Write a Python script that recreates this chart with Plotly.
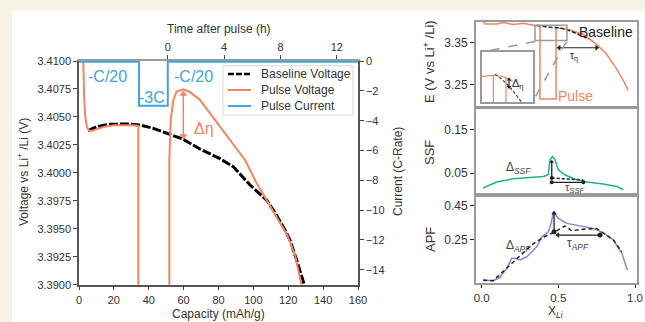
import plotly.graph_objects as go

# ---------------- main chart data ----------------
cap_base = [5.2, 10.1, 17.8, 27.3, 35.0, 42.6, 50.3, 59.8, 69.4, 80.5, 88.5, 98.1, 107.6, 111.4, 117.1, 121.0, 124.8, 129.2]
v_base = [3.40377, 3.40413, 3.40434, 3.40437, 3.40428, 3.40398, 3.40354, 3.40300, 3.40213, 3.40130,
          3.40055, 3.39891, 3.39757, 3.39668, 3.39519, 3.39400, 3.39221, 3.39000]

cap_pulse = [2.3, 2.6, 3.0, 3.6, 4.5, 6.0, 8.0, 11.0, 15.0, 20.0, 26.0, 31.0, 34.0, 34.0, 51.8, 51.8,
             52.6, 54.1, 56.0, 59.8, 63.6, 69.4, 76.0, 82.3, 88.5, 95.2, 101.9, 107.5, 113.4, 119.4, 123.9, 127.7, 128.3]
v_pulse = [3.4110, 3.4085, 3.4065, 3.4050, 3.4041, 3.40375, 3.40378, 3.40395, 3.40415, 3.40425, 3.40428, 3.40425, 3.40420,
           3.3850, 3.3850, 3.4012, 3.40473, 3.40651, 3.40726, 3.40747, 3.40723, 3.40651, 3.40514, 3.40383, 3.40250,
           3.40115, 3.39907, 3.39760, 3.39608, 3.39444, 3.39266, 3.39000, 3.38950]

cap_current = [0.0, 34.4, 34.4, 50.9, 50.9, 160.0]
current = [-0.05, -0.05, -3.0, -3.0, -0.05, -0.05]

volt_ticks = [3.3900, 3.3925, 3.3950, 3.3975, 3.4000, 3.4025, 3.4050, 3.4075, 3.4100]
cap_ticks = [0, 20, 40, 60, 80, 100, 120, 140, 160]
cur_ticks = [0, -2, -4, -6, -8, -10, -12, -14]
time_ticks = [0, 4, 8, 12]
legend_labels = ['Baseline Voltage', 'Pulse Voltage', 'Pulse Current']

# ---------------- right panels data ----------------
x_e_pulse = [0.010, 0.022, 0.098, 0.141, 0.206, 0.271, 0.348, 0.380, 0.380, 0.485, 0.485, 0.565, 0.663, 0.750, 0.815, 0.881, 0.924, 0.956]
e_pulse = [3.401, 3.3948, 3.3948, 3.3979, 3.3932, 3.3962, 3.3908, 3.389, 3.216, 3.216, 3.386, 3.3814, 3.3696, 3.346, 3.3224, 3.287, 3.2594, 3.2358]
x_e_base = [0.359, 0.446, 0.511, 0.580, 0.641, 0.700]
e_base = [3.3915, 3.3868, 3.3854, 3.3780, 3.3680, 3.3590]

x_ssf = [0.010, 0.098, 0.206, 0.315, 0.402, 0.434, 0.446, 0.461, 0.478, 0.500, 0.543, 0.598, 0.685, 0.793, 0.881, 0.924]
ssf = [0.0154, 0.0292, 0.0368, 0.0398, 0.0421, 0.0461, 0.0807, 0.0883, 0.0807, 0.0576, 0.0461, 0.0368, 0.0292, 0.0246, 0.0191, 0.0114]

x_apf = [0.010, 0.075, 0.119, 0.163, 0.196, 0.217, 0.250, 0.294, 0.359, 0.392, 0.435, 0.453, 0.468, 0.500, 0.555, 0.642, 0.729, 0.794, 0.859, 0.914, 0.950]
apf = [0.008, 0.004, 0.024, 0.077, 0.137, 0.137, 0.127, 0.146, 0.206, 0.265, 0.295, 0.345, 0.414, 0.375, 0.345, 0.329, 0.315, 0.289, 0.246, 0.167, 0.067]
x_apf_base = [0.010, 0.075, 0.326, 0.400, 0.478, 0.543, 0.587, 0.663, 0.750, 0.793, 0.859, 0.913]
apf_base = [0.006, 0.004, 0.216, 0.262, 0.295, 0.329, 0.301, 0.310, 0.315, 0.289, 0.246, 0.176]

# inset (magnified) data, local units
u_in_pulse = [0.0, 0.16, 0.30, 0.43, 0.53, 0.60]
v_in_pulse = [0.506, 0.53, 0.53, 0.50, 0.46, 0.41]
u_in_base = [0.258, 0.388, 0.535, 0.645, 0.775]
v_in_base = [0.553, 0.46, 0.308, 0.178, 0.0]
u_in_drops = [0.225, 0.47]
v_in_drops = [0.52, 0.50]

W, H = 645, 322
def px(x): return x / W
def py(y): return 1 - y / H

ORANGE = '#f5845f'
BLUE = '#3ba7dc'
GREEN = '#1db38d'
PURPLE = '#8b85d5'
GRAY = '#9a9a9a'
TXT = '#333333'
FONT = 'Liberation Sans, Arial, sans-serif'

fig = go.Figure()
base_line = dict(color='black', width=3, dash='9px,2px')
pulse_line = dict(color=ORANGE, width=2)
cur_line = dict(color=BLUE, width=2)
fig.add_trace(go.Scatter(x=cap_base, y=v_base, mode='lines', name=legend_labels[0], line=base_line,
                         xaxis='x', yaxis='y', showlegend=False))
fig.add_trace(go.Scatter(x=cap_pulse, y=v_pulse, mode='lines', name=legend_labels[1], line=pulse_line,
                         xaxis='x', yaxis='y', showlegend=False))
fig.add_trace(go.Scatter(x=cap_current, y=current, mode='lines', name=legend_labels[2], line=cur_line,
                         xaxis='x', yaxis='y2', showlegend=False))
# invisible trace so the top time axis is drawn
fig.add_trace(go.Scatter(x=time_ticks, y=[None] * len(time_ticks), mode='lines', xaxis='x2', yaxis='y',
                         showlegend=False, hoverinfo='skip'))

# E panel
fig.add_trace(go.Scatter(x=x_e_pulse, y=e_pulse, mode='lines', line=dict(color=ORANGE, width=1.5),
                         xaxis='x3', yaxis='y3', showlegend=False))
fig.add_trace(go.Scatter(x=x_e_base, y=e_base, mode='lines', line=dict(color='#222', width=1.5, dash='4px,2px'),
                         xaxis='x3', yaxis='y3', showlegend=False))
# SSF panel
fig.add_trace(go.Scatter(x=x_ssf, y=ssf, mode='lines', line=dict(color=GREEN, width=1.5),
                         xaxis='x4', yaxis='y4', showlegend=False))
# APF panel
fig.add_trace(go.Scatter(x=x_apf, y=apf, mode='lines', line=dict(color=PURPLE, width=1.5),
                         xaxis='x5', yaxis='y5', showlegend=False))
fig.add_trace(go.Scatter(x=x_apf_base, y=apf_base, mode='lines', line=dict(color='#222', width=1.5, dash='4px,3px'),
                         xaxis='x5', yaxis='y5', showlegend=False))
# inset
fig.add_trace(go.Scatter(x=u_in_pulse, y=v_in_pulse, mode='lines', line=dict(color=ORANGE, width=1.2),
                         xaxis='x6', yaxis='y6', showlegend=False))
for u, v in zip(u_in_drops, v_in_drops):
    fig.add_trace(go.Scatter(x=[u, u], y=[-0.05, v], mode='lines', line=dict(color=ORANGE, width=1.2),
                             xaxis='x6', yaxis='y6', showlegend=False))
fig.add_trace(go.Scatter(x=u_in_base, y=v_in_base, mode='lines', line=dict(color='#444', width=1.2, dash='3px,2px'),
                         xaxis='x6', yaxis='y6', showlegend=False))

# arrows drawn as line + marker heads
def arrow(xs, ys, xa, ya, color, symbols, width=1.3, size=6):
    fig.add_trace(go.Scatter(x=xs, y=ys, mode='lines+markers', xaxis=xa, yaxis=ya, showlegend=False,
                             hoverinfo='skip', line=dict(color=color, width=width),
                             marker=dict(symbol=symbols, size=size, color=color, line=dict(width=0))))

arrow([59.8, 59.8], [3.40330, 3.40705], 'x', 'y', ORANGE, ['triangle-down', 'triangle-up'], width=1.5, size=7)
arrow([0.505, 0.750], [3.338, 3.338], 'x3', 'y3', '#222', ['triangle-left', 'triangle-right'], width=1.2, size=5)
arrow([0.529, 0.529], [0.30, 0.45], 'x6', 'y6', '#222', ['triangle-down', 'triangle-up'], width=1.2, size=4)
arrow([0.457, 0.457], [0.0385, 0.0760], 'x4', 'y4', '#222', ['circle', 'triangle-up'], width=1.3, size=4)
arrow([0.457, 0.663], [0.0285, 0.0285], 'x4', 'y4', '#222', ['circle', 'circle'], width=1.3, size=4)
arrow([0.472, 0.472], [0.295, 0.405], 'x5', 'y5', '#222', ['circle', 'triangle-up'], width=1.3, size=5)
arrow([0.497, 0.772], [0.2756, 0.2756], 'x5', 'y5', '#222', ['triangle-left', 'circle'], width=1.3, size=5)

tickfont = dict(family=FONT, size=11, color=TXT)
rfont = dict(family=FONT, size=12, color=TXT)

fig.update_layout(
    width=W, height=H, autosize=False,
    margin=dict(l=0, r=0, t=0, b=0, pad=0),
    paper_bgcolor='#f7f3e5', plot_bgcolor='rgba(0,0,0,0)',
    font=dict(family=FONT, color=TXT),
    showlegend=False,
    xaxis=dict(domain=[px(79), px(358)], range=[0, 160], anchor='y', tickvals=cap_ticks, automargin=False,
               ticks='outside', ticklen=4, tickcolor='#444', showline=True, linecolor='#555', linewidth=1.5,
               showgrid=False, zeroline=False, tickfont=tickfont),
    xaxis2=dict(overlaying='x', side='top', anchor='y', range=[-6.3, 13.5], tickvals=time_ticks, automargin=False,
                ticks='outside', ticklen=4, tickcolor='#444', showline=True, linecolor='#999', linewidth=1.5,
                showgrid=False, zeroline=False, tickfont=tickfont),
    yaxis=dict(domain=[py(284.7), py(61)], range=[3.39, 3.41], anchor='x', tickvals=volt_ticks, tickformat='.4f',
               automargin=False,
               ticks='outside', ticklen=4, tickcolor='#444', showline=True, linecolor='#555', linewidth=1.5,
               showgrid=False, zeroline=False, tickfont=tickfont),
    yaxis2=dict(overlaying='y', side='right', anchor='x', range=[-15, 0], tickvals=cur_ticks, automargin=False,
                ticks='outside', ticklen=4, tickcolor='#444', showline=True, linecolor='#555', linewidth=1.5,
                showgrid=False, zeroline=False, tickfont=tickfont),
)

panel_x = [px(476), px(637)]
xr = [-0.037, 1.013]
common_x = dict(domain=panel_x, range=xr, showline=True, mirror=True, linecolor=GRAY, linewidth=2,
                showgrid=False, zeroline=False, automargin=False)
common_y = dict(showline=True, mirror=True, linecolor=GRAY, linewidth=2, showgrid=False, zeroline=False,
                ticks='outside', ticklen=4, tickcolor='#222', tickfont=rfont, automargin=False)
hidden = dict(showticklabels=False, ticks='', tickvals=[])
fig.update_layout(
    xaxis3=dict(anchor='y3', **hidden, **common_x),
    yaxis3=dict(anchor='x3', domain=[py(105.7), py(21.7)], range=[3.2, 3.4], tickvals=[3.25, 3.35], **common_y),
    xaxis4=dict(anchor='y4', **hidden, **common_x),
    yaxis4=dict(anchor='x4', domain=[py(192.5), py(109)], range=[0.005, 0.1985], tickvals=[0.05, 0.15], **common_y),
    xaxis5=dict(anchor='y5', tickvals=[0.0, 0.5, 1.0], tickformat='.1f', ticks='outside', ticklen=3,
                tickcolor='#222', tickfont=dict(family=FONT, size=11.5, color=TXT), **common_x),
    yaxis5=dict(anchor='x5', domain=[py(283), py(197)], range=[-0.01, 0.502], tickvals=[0.25, 0.45], **common_y),
    xaxis6=dict(anchor='y6', domain=[px(481.7), px(533.3)], range=[0, 1], showline=True, mirror=True, automargin=False,
                linecolor=GRAY, linewidth=1.5, showgrid=False, zeroline=False, **hidden),
    yaxis6=dict(anchor='x6', domain=[py(102.3), py(51.7)], range=[0, 1], showline=True, mirror=True, automargin=False,
                linecolor=GRAY, linewidth=1.5, showgrid=False, zeroline=False, **hidden),
)

# legend box (drawn by hand to match spacing)
LEG_X0, LEG_X1, LEG_Y0, LEG_Y1 = 223, 353, 65.7, 115
leg_rows = [74, 90, 106]
leg_styles = [base_line, pulse_line, cur_line]

shapes = [
    dict(type='rect', xref='paper', yref='paper', x0=px(12), x1=1, y0=0, y1=py(11),
         fillcolor='white', line=dict(width=0), layer='below'),
    dict(type='rect', xref='paper', yref='paper', x0=px(LEG_X0), x1=px(LEG_X1), y0=py(LEG_Y1), y1=py(LEG_Y0),
         fillcolor='white', line=dict(color='#d8d8d8', width=1)),
    dict(type='rect', xref='x3', yref='y3', x0=0.348, x1=0.556, y0=3.3554, y1=3.3915,
         line=dict(color=GRAY, width=1.5)),
    dict(type='line', xref='paper', yref='paper', x0=px(535), y0=py(41.5), x1=px(483), y1=py(51.7),
         line=dict(color=GRAY, width=1.5, dash='dash')),
    dict(type='line', xref='paper', yref='paper', x0=px(566.5), y0=py(41.5), x1=px(533.3), y1=py(100.5),
         line=dict(color=GRAY, width=1.5, dash='dash')),
    dict(type='line', xref='x4', yref='y4', x0=0.457, y0=0.0385, x1=0.663, y1=0.034,
         line=dict(color='#222', width=1.5, dash='3px,2px')),
]
for yrow, st in zip(leg_rows, leg_styles):
    is_black = st['color'] == 'black'
    shapes.append(dict(type='line', xref='paper', yref='paper', x0=px(228), x1=px(251), y0=py(yrow), y1=py(yrow),
                       line=dict(color=st['color'], width=2.5 if is_black else 2,
                                 dash='6px,2px' if is_black else 'solid')))
fig.update_layout(shapes=shapes)

ann = []
def text(x, y, t, xref, yref, size, color, angle=0, xanchor='center', yanchor='middle'):
    ann.append(dict(x=x, y=y, text=t, xref=xref, yref=yref, showarrow=False, textangle=angle,
                    xanchor=xanchor, yanchor=yanchor,
                    font=dict(family=FONT, size=size, color=color)))

for yrow, lab in zip(leg_rows, legend_labels):
    text(px(259), py(yrow), lab, 'paper', 'paper', 12, TXT, xanchor='left')

# main chart labels
text(16.6, 3.40857, '-C/20', 'x', 'y', 16, BLUE)
text(42.1, 3.40672, '-3C', 'x', 'y', 16, BLUE)
text(65.9, 3.40857, '-C/20', 'x', 'y', 16, BLUE)
text(71.7, 3.4040, 'Δη', 'x', 'y', 16, ORANGE)

text(px(219), py(29), 'Time after pulse (h)', 'paper', 'paper', 12, TXT)
text(px(218.5), py(314), 'Capacity (mAh/g)', 'paper', 'paper', 12, TXT)
text(px(23), py(172), 'Voltage vs Li<sup>+</sup> /Li (V)', 'paper', 'paper', 12, TXT, angle=-90)
text(px(398), py(172), 'Current (C-Rate)', 'paper', 'paper', 12, TXT, angle=-90)

# right panel titles
text(px(429), py(62), 'E (V vs Li<sup>+</sup> /Li)', 'paper', 'paper', 13, TXT, angle=-90)
text(px(430), py(153), 'SSF', 'paper', 'paper', 13, TXT, angle=-90)
text(px(430), py(240), 'APF', 'paper', 'paper', 13, TXT, angle=-90)
text(px(556), 0.0, 'X<sub><i>Li</i></sub>', 'paper', 'paper', 12, TXT, yanchor='bottom')

# E panel labels
text(0.814, 3.376, 'Baseline', 'x3', 'y3', 14, '#222')
text(0.615, 3.224, 'Pulse', 'x3', 'y3', 14, ORANGE)
text(0.602, 3.318, 'τ<sub>η</sub>', 'x3', 'y3', 10, '#222')
text(0.70, 0.36, 'Δ<sub>η</sub>', 'x6', 'y6', 11, '#222')

# SSF / APF labels
text(0.237, 0.062, 'Δ<sub><i>SSF</i></sub>', 'x4', 'y4', 12, '#444')
text(0.609, 0.016, 'τ<sub><i>SSF</i></sub>', 'x4', 'y4', 11, '#444')
text(0.237, 0.21, 'Δ<sub><i>APF</i></sub>', 'x5', 'y5', 12, '#444')
text(0.628, 0.222, 'τ<sub><i>APF</i></sub>', 'x5', 'y5', 12, '#444')

fig.update_layout(annotations=ann)
fig.write_html('out.html', config={'displayModeBar': False},
               post_script="document.body.style.margin='0px';document.body.style.padding='0px';"
                           "document.body.style.overflow='hidden';")
